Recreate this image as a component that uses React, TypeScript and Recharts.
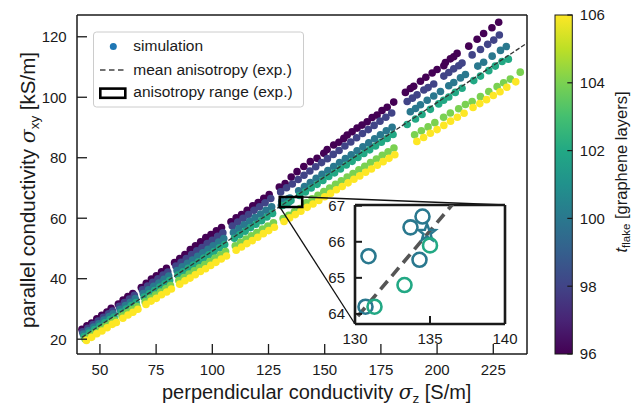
import React from 'react';
import { ScatterChart, Scatter, XAxis, YAxis } from 'recharts';

type Pt = [number, number];

// ---------- data ----------
const tFlake = [96, 98, 100, 102, 104, 106];

const band96: Pt[] = [
  [42.0, 23.3], [44.2, 24.4], [46.3, 25.3], [48.6, 26.7], [50.8, 27.9], [53.1, 29.0], [55.0, 30.2],
  [58.2, 31.6], [60.3, 32.9], [62.4, 34.1], [64.6, 35.1],
  [68.4, 37.1], [70.6, 38.5], [72.9, 39.9], [75.1, 41.0], [77.4, 42.3], [79.6, 43.4],
  [83.2, 45.3], [85.5, 46.7], [87.8, 48.0], [90.2, 49.6], [92.5, 50.9], [94.8, 52.2], [97.1, 53.6], [99.4, 54.6], [101.8, 55.8], [104.1, 56.9],
  [108.3, 58.8], [110.6, 60.1], [113.0, 61.2], [115.5, 62.6], [118.0, 64.1], [120.4, 65.2], [122.9, 66.6], [125.3, 67.8],
  [129.8, 70.3], [132.4, 71.5], [135.1, 73.6], [137.7, 75.4], [140.7, 77.1], [143.6, 78.7], [146.6, 79.8], [149.6, 81.5], [151.1, 82.7],
  [154.0, 84.2], [156.3, 85.1], [158.5, 86.4], [160.0, 87.5], [162.2, 88.6], [164.4, 89.8], [166.6, 90.8], [168.9, 91.9], [171.1, 93.3],
  [173.3, 94.1], [175.5, 95.6], [177.8, 96.7], [180.7, 98.4],
  [185.9, 101.6], [188.1, 102.9], [189.6, 103.6], [192.6, 105.3], [195.0, 106.6], [197.8, 108.0], [200.0, 109.2], [203.0, 110.4],
  [203.7, 111.5], [205.9, 112.7], [207.4, 113.4], [208.9, 114.5],
  [214.1, 116.9], [217.8, 119.2], [220.7, 121.1], [224.4, 123.0], [227.4, 124.8],
];

const band98: Pt[] = [
  [42.3, 22.4], [44.6, 23.6], [46.9, 24.8], [49.2, 26.0], [51.5, 27.2], [53.8, 28.4], [55.6, 29.3],
  [58.6, 30.9], [60.9, 32.1], [63.1, 33.3], [65.3, 34.5],
  [68.9, 36.3], [71.2, 37.6], [73.5, 38.8], [75.8, 40.0], [78.1, 41.2], [80.2, 42.2],
  [83.8, 44.2], [86.1, 45.4], [88.4, 46.7], [90.8, 48.0], [93.1, 49.2], [95.4, 50.3], [97.7, 51.6], [100.0, 52.7], [102.4, 54.0], [104.7, 55.2],
  [108.9, 57.4], [111.3, 58.7], [113.7, 60.0], [116.1, 61.2], [118.6, 62.6], [121.0, 63.8], [123.5, 65.1], [126.0, 66.5],
  [130.4, 68.7], [133.0, 70.1], [135.6, 71.3], [138.2, 72.8], [140.8, 74.2], [143.4, 75.6], [146.0, 77.0], [148.6, 78.4], [151.2, 79.7],
  [153.8, 81.1], [156.4, 82.4], [159.0, 83.9], [161.6, 85.2], [164.2, 86.6], [166.8, 88.0], [169.4, 89.3], [172.0, 90.7], [174.6, 92.1],
  [177.2, 93.4], [179.8, 94.8],
  [186.7, 98.6], [189.0, 99.7], [191.1, 100.8], [194.1, 102.4], [196.0, 103.2], [198.5, 104.4], [203.0, 107.0], [205.2, 108.2],
  [207.4, 109.4], [209.6, 110.4], [211.1, 111.3],
  [215.6, 114.0], [219.3, 115.8], [222.5, 117.5], [225.2, 118.9], [227.7, 120.6],
];

const band100: Pt[] = [
  [42.6, 21.7], [44.9, 22.8], [47.2, 24.0], [49.5, 25.1], [51.8, 26.3], [54.1, 27.5], [55.9, 28.4],
  [59.0, 29.9], [61.3, 31.1], [63.5, 32.2], [65.7, 33.4],
  [69.3, 35.1], [71.6, 36.3], [73.9, 37.5], [76.2, 38.6], [78.5, 39.8], [80.6, 40.9],
  [84.3, 42.7], [86.6, 43.9], [88.9, 45.1], [91.2, 46.2], [93.5, 47.4], [95.8, 48.6], [98.1, 49.7], [100.4, 50.9], [102.8, 52.1], [105.1, 53.3],
  [109.4, 55.3], [111.8, 56.6], [114.2, 57.8], [116.6, 59.0], [119.0, 60.2], [121.5, 61.4], [123.9, 62.6], [126.4, 63.8],
  [130.7, 64.2], [130.9, 65.6], [133.7, 66.4], [134.3, 65.5], [134.5, 66.7],
  [138.4, 69.1], [141.0, 70.5], [143.6, 71.8], [146.2, 73.2], [148.8, 74.5], [151.4, 75.8], [154.0, 77.1], [156.6, 78.4], [159.2, 79.7],
  [161.8, 81.0], [164.4, 82.3], [167.0, 83.6], [169.6, 84.9], [172.2, 86.3], [174.8, 87.6], [177.4, 88.9], [180.0, 90.1],
  [188.1, 95.2], [190.4, 96.3], [192.6, 97.5], [195.6, 99.0], [198.5, 100.4], [201.5, 101.9], [205.2, 103.8], [207.4, 104.9],
  [210.4, 106.4], [212.6, 107.5],
  [218.1, 110.3], [220.7, 111.6], [224.5, 113.6], [228.2, 115.5], [230.8, 116.8],
];

const band102: Pt[] = [
  [43.0, 20.9], [45.3, 22.0], [47.6, 23.2], [49.9, 24.3], [52.2, 25.4], [54.5, 26.5], [56.3, 27.3],
  [59.4, 28.9], [61.7, 30.0], [63.9, 31.1], [66.1, 32.1],
  [69.7, 33.9], [72.0, 35.0], [74.3, 36.1], [76.6, 37.2], [78.9, 38.3], [81.0, 39.4],
  [84.7, 41.2], [87.0, 42.3], [89.3, 43.4], [91.6, 44.5], [93.9, 45.6], [96.2, 46.8], [98.5, 47.9], [100.8, 49.0], [103.2, 50.2], [105.5, 51.3],
  [109.8, 53.4], [112.2, 54.5], [114.6, 55.7], [117.0, 56.9], [119.4, 58.0], [121.9, 59.2], [124.3, 60.4], [126.8, 61.6],
  [131.3, 64.2], [133.3, 64.8], [135.0, 65.9],
  [138.8, 67.5], [141.4, 68.7], [144.0, 70.0], [146.6, 71.2], [149.2, 72.5], [151.8, 73.8], [154.4, 75.0], [157.0, 76.3], [159.6, 77.6],
  [162.2, 78.8], [164.8, 80.1], [167.4, 81.4], [170.0, 82.6], [172.6, 83.9], [175.2, 85.1], [177.8, 86.4], [180.4, 87.7],
  [186.7, 91.0], [190.4, 92.8], [193.3, 94.3], [197.0, 96.0], [200.7, 97.8], [202.9, 99.0], [205.2, 100.1], [208.1, 101.6], [211.1, 103.0],
  [216.3, 105.5], [219.3, 107.0], [223.0, 108.8], [225.9, 110.3], [228.9, 111.8], [231.7, 112.6],
];

const band104: Pt[] = [
  [43.4, 20.1], [45.7, 21.2], [48.0, 22.3], [50.3, 23.3], [52.6, 24.4], [54.9, 25.4], [56.7, 26.2],
  [59.8, 27.7], [62.1, 28.7], [64.3, 29.8], [66.5, 30.8],
  [70.1, 32.4], [72.4, 33.5], [74.7, 34.6], [77.0, 35.6], [79.3, 36.7], [81.4, 37.7],
  [85.1, 39.4], [87.4, 40.4], [89.7, 41.5], [92.0, 42.6], [94.3, 43.6], [96.6, 44.7], [98.9, 45.7], [101.2, 46.8], [103.6, 47.9], [105.9, 49.0],
  [110.2, 50.9], [112.6, 52.0], [115.0, 53.1], [117.4, 54.2], [119.8, 55.3], [122.3, 56.4], [124.7, 57.4], [127.2, 58.5],
  [131.5, 59.9], [134.0, 61.0], [136.5, 62.1], [139.0, 63.2],
  [141.8, 65.1], [144.4, 66.4], [147.0, 67.6], [149.6, 68.8], [152.2, 70.0], [154.8, 71.2], [157.4, 72.4], [160.0, 73.6], [162.6, 74.8],
  [165.2, 76.0], [167.8, 77.2], [170.4, 78.4], [173.0, 79.6], [175.6, 80.8], [178.2, 82.0], [180.8, 83.2],
  [190.0, 87.6], [193.0, 88.9], [196.0, 90.2], [199.0, 91.6], [202.9, 93.4], [205.9, 94.8], [209.6, 96.2], [212.6, 97.6],
  [215.6, 98.6], [219.3, 100.2], [223.0, 101.9], [226.7, 103.5], [229.6, 104.8], [232.6, 106.0], [237.0, 108.3],
];

const band106: Pt[] = [
  [44.0, 19.6], [46.3, 20.6], [48.6, 21.8], [50.9, 22.7], [53.2, 23.8], [55.5, 24.9], [57.3, 25.5],
  [60.2, 26.9], [62.5, 28.0], [64.7, 28.9], [66.9, 29.9],
  [70.5, 31.5], [72.8, 32.6], [75.1, 33.5], [77.4, 34.7], [79.7, 35.6], [81.8, 36.6],
  [85.5, 38.2], [87.8, 39.3], [90.1, 40.2], [92.4, 41.3], [94.7, 42.4], [97.0, 43.3], [99.3, 44.4], [101.6, 45.4], [104.0, 46.5], [106.3, 47.5],
  [110.6, 49.4], [113.0, 50.5], [115.4, 51.6], [117.8, 52.6], [120.2, 53.7], [122.7, 54.9], [125.1, 55.9], [127.6, 57.0],
  [131.9, 58.9], [134.4, 60.1], [136.9, 61.2], [139.4, 62.3],
  [142.2, 63.6], [144.8, 64.7], [147.4, 65.9], [150.0, 67.1], [152.6, 68.2], [155.2, 69.4], [157.8, 70.5], [160.4, 71.7], [163.0, 72.9],
  [165.6, 74.0], [168.2, 75.2], [170.8, 76.3], [173.4, 77.5], [176.0, 78.7], [178.6, 79.8], [181.2, 81.0],
  [191.0, 85.4], [194.0, 86.7], [197.0, 88.1], [200.0, 89.3], [203.0, 90.7], [206.0, 92.1], [209.0, 93.4], [212.0, 94.7],
  [216.0, 96.6], [219.0, 97.9], [222.0, 99.2], [225.0, 100.6], [228.0, 101.8], [231.0, 103.3], [235.0, 105.1],
];

const bands: Pt[][] = [band96, band98, band100, band102, band104, band106];

const xTicks = [50, 75, 100, 125, 150, 175, 200, 225];
const yTicks = [20, 40, 60, 80, 100, 120];
const insetXTicks = [130, 135, 140];
const insetYTicks = [64, 65, 66, 67];
const colorbarTicks = [96, 98, 100, 102, 104, 106];

const meanAnisotropy: Pt[] = [[42, 20.6], [240, 117.9]];
const rangeBoxX: [number, number] = [130, 140];
const rangeBoxY: [number, number] = [63.72, 67.02];
const highlight: Pt[] = [[134.8, 66.25]];
const highlightT = 100;

// ---------- styling / layout ----------
const VIRIDIS = ['#440154', '#482475', '#414487', '#355f8d', '#2a788e', '#21918c', '#22a884', '#44bf70', '#7ad151', '#bddf26', '#fde725'];
const T_MIN = 96;
const T_MAX = 106;
const colorFor = (t: number) => VIRIDIS[Math.round(((t - T_MIN) / (T_MAX - T_MIN)) * 10)];

const FONT = "'Liberation Sans', Arial, Helvetica, sans-serif";
const W = 641;
const H = 406;
const PLOT = { left: 77, top: 15, right: 527, bottom: 354 };
const X_DOMAIN: [number, number] = [39.8, 240];
const Y_DOMAIN: [number, number] = [15.1, 127.2];
const INSET = { left: 355, top: 205, right: 505, bottom: 324 };
const INSET_BOX = { left: 55, top: 10, width: 240, height: 160 };
const CBAR = { left: 555, top: 15, right: 572.3, bottom: 354 };
const INK = '#1a1a1a';
const AX = 1; // thickness reserved for each axis box

const toObjs = (pts: Pt[]) => pts.map(([x, y]) => ({ x, y }));
const pxToMain = (px: number, py: number) => ({
  x: X_DOMAIN[0] + ((px - PLOT.left) / (PLOT.right - PLOT.left)) * (X_DOMAIN[1] - X_DOMAIN[0]),
  y: Y_DOMAIN[1] - ((py - PLOT.top) / (PLOT.bottom - PLOT.top)) * (Y_DOMAIN[1] - Y_DOMAIN[0]),
});

const rectPath = [
  { x: rangeBoxX[0], y: rangeBoxY[0] },
  { x: rangeBoxX[1], y: rangeBoxY[0] },
  { x: rangeBoxX[1], y: rangeBoxY[1] },
  { x: rangeBoxX[0], y: rangeBoxY[1] },
  { x: rangeBoxX[0], y: rangeBoxY[0] },
];
const connectorUpper = [{ x: rangeBoxX[1], y: rangeBoxY[1] }, pxToMain(INSET.right, INSET.top)];
const connectorLower = [{ x: rangeBoxX[0], y: rangeBoxY[0] }, pxToMain(INSET.left, INSET.bottom)];

const tickText = { fontFamily: FONT, fontSize: 15, fill: INK };

// tick renderers: ticks point inward (matplotlib "in" direction)
const MainXTick = (p: any) => (
  <g>
    <line x1={p.x} x2={p.x} y1={PLOT.bottom} y2={PLOT.bottom - 10} stroke={INK} strokeWidth={1.3} />
    <text x={p.x} y={PLOT.bottom + 21} textAnchor="middle" {...tickText}>{p.payload.value}</text>
  </g>
);
const MainYTick = (p: any) => (
  <g>
    <line x1={PLOT.left} x2={PLOT.left + 10} y1={p.y} y2={p.y} stroke={INK} strokeWidth={1.3} />
    <text x={PLOT.left - 10.3} y={p.y + 5.4} textAnchor="end" {...tickText}>{p.payload.value}</text>
  </g>
);
const InsetXTick = (p: any) => {
  const base = INSET_BOX.top + (INSET.bottom - INSET.top);
  return (
    <g>
      <line x1={p.x} x2={p.x} y1={base} y2={base - 8} stroke={INK} strokeWidth={2} />
      <text x={p.x} y={base + 20} textAnchor="middle" {...tickText}>{p.payload.value}</text>
    </g>
  );
};
const InsetYTick = (p: any) => (
  <g>
    <line x1={INSET_BOX.left} x2={INSET_BOX.left + 7} y1={p.y} y2={p.y} stroke={INK} strokeWidth={2} />
    <text x={INSET_BOX.left - 10} y={p.y + 5.4} textAnchor="end" {...tickText}>{p.payload.value}</text>
  </g>
);

const dotShape = (color: string) => (p: any) => <circle cx={p.cx} cy={p.cy} r={3.8} fill={color} />;

const starPoints = (cx: number, cy: number) => {
  const pts: string[] = [];
  for (let i = 0; i < 10; i++) {
    const a = -Math.PI / 2 + (i * Math.PI) / 5;
    const rad = i % 2 === 0 ? 8.8 : 3.7;
    pts.push(`${(cx + rad * Math.cos(a)).toFixed(2)},${(cy + rad * Math.sin(a)).toFixed(2)}`);
  }
  return pts.join(' ');
};

// open markers for the inset: circles for simulations, a star for the highlighted run
const insetMarker = (color: string) => (p: any) =>
  p.payload && p.payload.star ? (
    <polygon points={starPoints(p.cx, p.cy)} fill="none" stroke={color} strokeWidth={2.5} />
  ) : (
    <circle cx={p.cx} cy={p.cy} r={7} fill="none" stroke={color} strokeWidth={2.6} />
  );
const noShape = () => <g />;

const frameAxis = { stroke: INK, strokeWidth: 1.5 };
const insetFrame = { stroke: INK, strokeWidth: 2.6 };

const insetSeries = bands.map((b, i) => {
  const pts: { x: number; y: number; star?: boolean }[] = toObjs(b);
  if (tFlake[i] === highlightT) highlight.forEach(([x, y]) => pts.push({ x, y, star: true }));
  return pts;
});

export default function App() {
  const cbarH = CBAR.bottom - CBAR.top;
  const cbY = (t: number) => CBAR.bottom - ((t - T_MIN) / (T_MAX - T_MIN)) * cbarH;
  const insetW = INSET.right - INSET.left;
  const insetH = INSET.bottom - INSET.top;

  return (
    <div style={{ position: 'absolute', left: 0, top: 0, width: W, height: H, background: '#fff' }}>
      {/* main chart */}
      <div style={{ position: 'absolute', left: 0, top: 0 }}>
        <ScatterChart width={W} height={H}
          margin={{ top: PLOT.top - AX, left: PLOT.left - AX, right: W - PLOT.right - AX, bottom: H - PLOT.bottom - AX }}>
          <XAxis type="number" dataKey="x" domain={X_DOMAIN} ticks={xTicks} interval={0} allowDataOverflow height={AX}
            tickSize={0} tickMargin={0} tickLine={false} tick={MainXTick} axisLine={frameAxis} />
          <YAxis type="number" dataKey="y" domain={Y_DOMAIN} ticks={yTicks} interval={0} allowDataOverflow width={AX}
            tickSize={0} tickMargin={0} tickLine={false} tick={MainYTick} axisLine={frameAxis} />
          <XAxis xAxisId="top" orientation="top" type="number" domain={X_DOMAIN} ticks={xTicks} allowDataOverflow height={AX}
            tick={false} tickLine={false} axisLine={frameAxis} />
          <YAxis yAxisId="right" orientation="right" type="number" domain={Y_DOMAIN} ticks={yTicks} allowDataOverflow width={AX}
            tick={false} tickLine={false} axisLine={frameAxis} />
          {bands.map((b, i) => (
            <Scatter key={`main-${tFlake[i]}`} name={`t=${tFlake[i]}`} data={toObjs(b)} fill={colorFor(tFlake[i])}
              shape={dotShape(colorFor(tFlake[i]))} isAnimationActive={false} />
          ))}
          <Scatter key="mean" name="mean anisotropy" data={toObjs(meanAnisotropy)} stroke="#333" fill="#333" shape={noShape}
            line={{ stroke: '#333', strokeWidth: 1.3, strokeDasharray: '4.5 2' }} isAnimationActive={false} />
          <Scatter key="connU" name="connector upper" data={connectorUpper} stroke="#111" fill="#111" shape={noShape}
            line={{ stroke: '#111', strokeWidth: 1.3 }} isAnimationActive={false} />
          <Scatter key="connL" name="connector lower" data={connectorLower} stroke="#111" fill="#111" shape={noShape}
            line={{ stroke: '#111', strokeWidth: 1.3 }} isAnimationActive={false} />
          <Scatter key="range" name="anisotropy range" data={rectPath} stroke="#000" fill="#000" shape={noShape}
            line={{ stroke: '#000', strokeWidth: 2.6, strokeLinecap: 'square', strokeLinejoin: 'miter' }} isAnimationActive={false} />
        </ScatterChart>
      </div>

      {/* inset background */}
      <div style={{ position: 'absolute', left: INSET.left, top: INSET.top, width: insetW, height: insetH, background: '#fff' }} />

      {/* inset chart */}
      <div style={{ position: 'absolute', left: INSET.left - INSET_BOX.left, top: INSET.top - INSET_BOX.top }}>
        <ScatterChart width={INSET_BOX.width} height={INSET_BOX.height}
          margin={{
            top: INSET_BOX.top - AX,
            left: INSET_BOX.left - AX,
            right: INSET_BOX.width - INSET_BOX.left - insetW - AX,
            bottom: INSET_BOX.height - INSET_BOX.top - insetH - AX,
          }}>
          <XAxis type="number" dataKey="x" domain={rangeBoxX} ticks={insetXTicks} interval={0} allowDataOverflow height={AX}
            tickSize={0} tickMargin={0} tickLine={false} tick={InsetXTick} axisLine={insetFrame} />
          <YAxis type="number" dataKey="y" domain={rangeBoxY} ticks={insetYTicks} interval={0} allowDataOverflow width={AX}
            tickSize={0} tickMargin={0} tickLine={false} tick={InsetYTick} axisLine={insetFrame} />
          <XAxis xAxisId="top" orientation="top" type="number" domain={rangeBoxX} ticks={insetXTicks} allowDataOverflow height={AX}
            tick={false} tickLine={false} axisLine={insetFrame} />
          <YAxis yAxisId="right" orientation="right" type="number" domain={rangeBoxY} ticks={insetYTicks} allowDataOverflow width={AX}
            tick={false} tickLine={false} axisLine={insetFrame} />
          <Scatter key="inset-mean" name="inset mean" data={toObjs(meanAnisotropy)} stroke="#555" fill="#555" shape={noShape}
            line={{ stroke: '#555', strokeWidth: 3.6, strokeDasharray: '11 6.5' }} isAnimationActive={false} />
          {insetSeries.map((pts, i) => (
            <Scatter key={`inset-${tFlake[i]}`} name={`inset t=${tFlake[i]}`} data={pts} fill="none"
              shape={insetMarker(colorFor(tFlake[i]))} isAnimationActive={false} />
          ))}
        </ScatterChart>
      </div>

      {/* legend, colorbar, titles */}
      <svg width={W} height={H} style={{ position: 'absolute', left: 0, top: 0, pointerEvents: 'none' }} fontFamily={FONT}>
        <defs>
          <linearGradient id="viridisGrad" x1="0" y1="1" x2="0" y2="0">
            {VIRIDIS.map((c, i) => (
              <stop key={i} offset={`${i * 10}%`} stopColor={c} />
            ))}
          </linearGradient>
        </defs>

        {/* legend */}
        <rect x={93.5} y={32} width={210} height={75} rx={3} fill="rgba(255,255,255,0.85)" stroke="#cccccc" strokeWidth={1} />
        <circle cx={113.3} cy={46.6} r={3.5} fill="#1f77b4" />
        <text x={133.3} y={50.8} fontSize={15.5} fill={INK}>simulation</text>
        <line x1={100} x2={124.5} y1={70} y2={70} stroke="#444" strokeWidth={1.5} strokeDasharray="5.5 3.5" />
        <text x={133.3} y={75.2} fontSize={15.5} fill={INK}>mean anisotropy (exp.)</text>
        <rect x={100.3} y={88.6} width={25} height={9.2} fill="none" stroke="#000" strokeWidth={2.6} />
        <text x={133.3} y={97.4} fontSize={15.5} fill={INK}>anisotropy range (exp.)</text>

        {/* colorbar */}
        <rect x={CBAR.left} y={CBAR.top} width={CBAR.right - CBAR.left} height={cbarH} fill="url(#viridisGrad)" stroke={INK} strokeWidth={1} />
        {colorbarTicks.map((t) => (
          <g key={t}>
            <line x1={CBAR.right - 5} x2={CBAR.right} y1={cbY(t)} y2={cbY(t)} stroke={INK} strokeWidth={1.2} />
            <text x={CBAR.right + 7.5} y={cbY(t) + 5.4} fontSize={15} fill={INK}>{t}</text>
          </g>
        ))}

        {/* axis titles */}
        <text x={316.7} y={398.5} textAnchor="middle" fontSize={20} fill={INK}>
          perpendicular conductivity{' '}
          <tspan fontStyle="italic" fontFamily="'DejaVu Serif', serif">σ</tspan>
          <tspan fontSize={13.5} dy={4}>z</tspan>
          <tspan dy={-4}> [S/m]</tspan>
        </text>
        <text x={34.5} y={190} textAnchor="middle" fontSize={20.5} fill={INK} transform="rotate(-90 34.5 190)">
          parallel conductivity{' '}
          <tspan fontStyle="italic" fontFamily="'DejaVu Serif', serif">σ</tspan>
          <tspan fontSize={13.5} dy={4}>xy</tspan>
          <tspan dy={-4}> [kS/m]</tspan>
        </text>
        <text x={627} y={172} textAnchor="middle" fontSize={16.5} fill={INK} transform="rotate(-90 627 172)">
          <tspan fontStyle="italic">t</tspan>
          <tspan fontSize={11.5} dy={3}>flake</tspan>
          <tspan dy={-3}> [graphene layers]</tspan>
        </text>
      </svg>
    </div>
  );
}
